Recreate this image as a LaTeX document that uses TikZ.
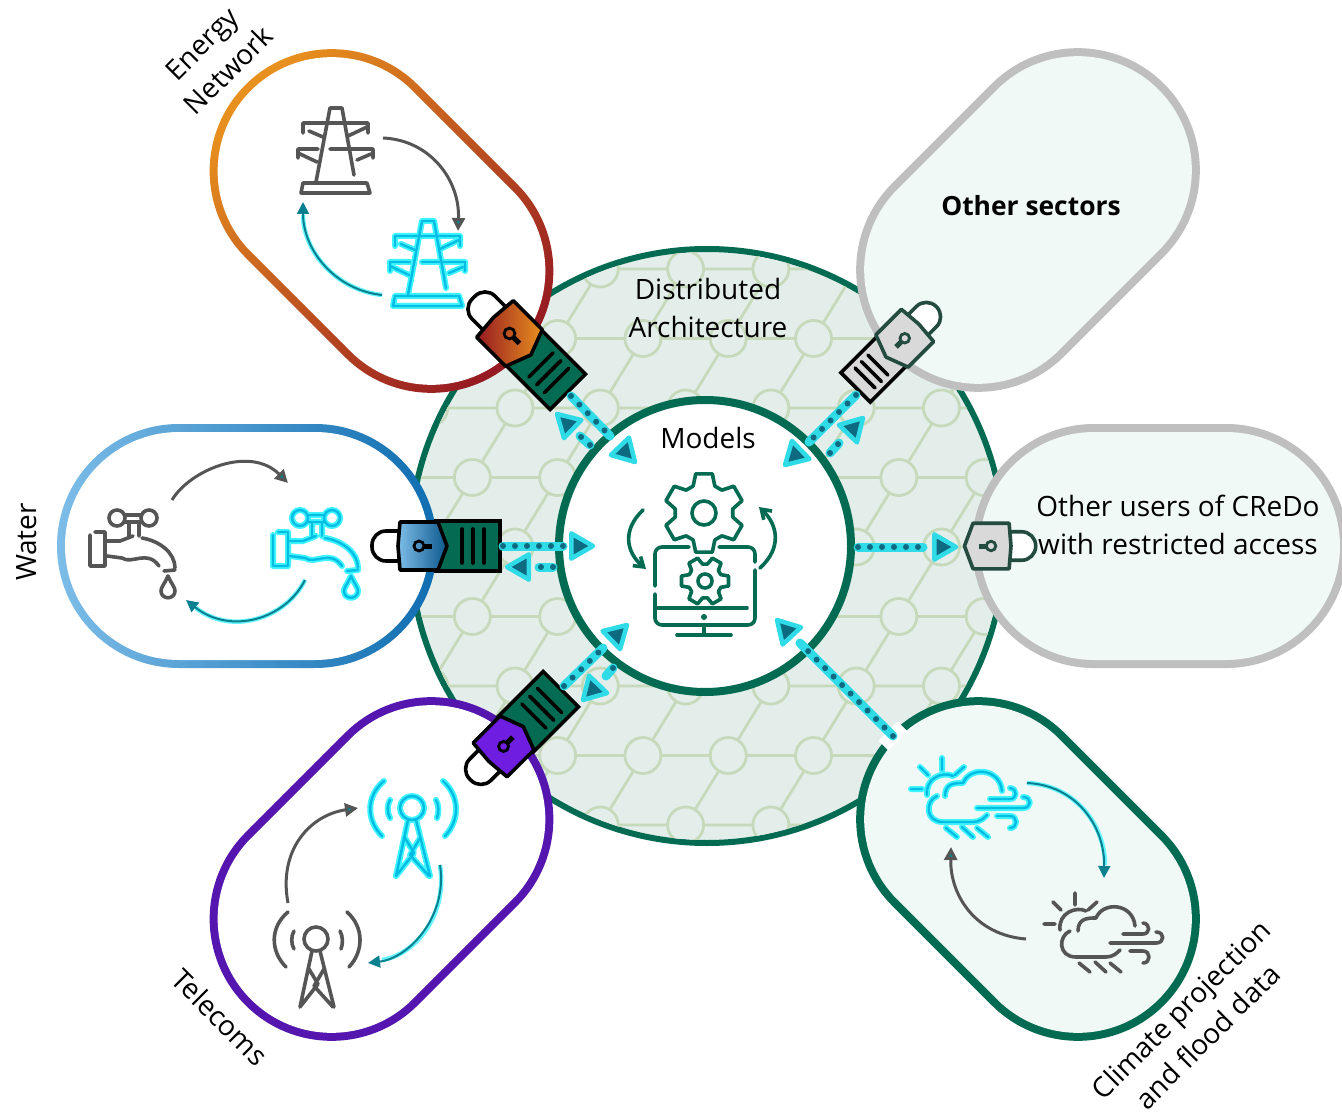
\documentclass[tikz,border=0pt]{standalone}
\usepackage{fontspec}
\setmainfont{Open Sans}
\usetikzlibrary{arrows.meta,shapes.misc,shapes.geometric}
\definecolor{credogreen}{HTML}{036B52}
\definecolor{discfill}{HTML}{E3EEEA}
\definecolor{mesh}{HTML}{C6DABB}
\definecolor{mint}{HTML}{F0F9F5}
\definecolor{rimgray}{HTML}{BFBFBF}
\definecolor{lockgray}{HTML}{D9D9D9}
\definecolor{lockdark}{HTML}{234B40}
\definecolor{flowcyan}{HTML}{30DBE8}
\definecolor{flowdark}{HTML}{0D6A80}
\definecolor{tipteal}{HTML}{08808F}
\definecolor{icongrey}{HTML}{555555}
\definecolor{glowcyan}{HTML}{3DF4FF}
\definecolor{corecyan}{HTML}{00BDE3}
\definecolor{energyA}{HTML}{E8901E}
\definecolor{energyB}{HTML}{961A22}
\definecolor{waterA}{HTML}{7DBDE8}
\definecolor{waterB}{HTML}{0F6DB0}
\definecolor{telecom}{HTML}{5416AE}
\definecolor{telecomlock}{HTML}{6F1DE0}
\tikzset{
  blobrim/.style={rounded rectangle,minimum height=244pt,inner sep=0pt,outer sep=0pt},
  blobcore/.style={rounded rectangle,minimum height=228pt,inner sep=0pt,outer sep=0pt},
  meshline/.style={mesh,line width=2.8pt},
  flowline/.style={flowcyan,line width=9pt,line cap=round},
  flowdots/.style={flowdark,line width=6pt,line cap=round,dash pattern=on 0pt off 12pt},
  flowtip/.style={regular polygon,regular polygon sides=3,shape border rotate=-90,
    draw=flowcyan,fill=flowdark,line width=4.5pt,line join=round,minimum size=29pt,
    inner sep=0pt,outer sep=0pt,anchor=corner 1},
  plugline/.style={black,line width=3.6pt,line join=miter},
  plugstripe/.style={black,line width=3.6pt,line cap=round},
  lockline/.style={line width=3.6pt,line join=round},
  icongray/.style={icongrey,line width=3.6pt,line cap=round,line join=round},
  iconglow/.style={glowcyan,line width=6pt,line cap=round,line join=round},
  iconcore/.style={corecyan,line width=2.4pt,line cap=round,line join=round},
  modelline/.style={credogreen,line width=3.6pt,line cap=round,line join=round},
  greyturn/.style={icongrey,line width=3pt,-{Triangle[length=13pt,width=13pt,fill=tipteal]}},
  glowturn/.style={glowcyan!80!white,line width=4.5pt},
  coreturn/.style={tipteal,line width=2pt,-{Triangle[length=12pt,width=12pt,fill=tipteal]}},
  label/.style={font=\fontsize{28}{38}\selectfont,align=center,inner sep=0pt}
}
\newcommand{\plugbody}[5]{%
  \begin{scope}[shift={(#1,#2)},rotate=#3,scale=#4]
    \draw[plugline,fill=#5] (-2,-25) rectangle (62,25);
    \foreach \stripe in {24,35,46} \draw[plugstripe] (\stripe,-17) -- (\stripe,17);
  \end{scope}}
\newcommand{\lockbody}[7]{%
  \begin{scope}[shift={(#1,#2)},rotate=#3,scale=#4]
    \draw[lockline,draw=#7,fill=white,rounded corners=14pt] (-36,-15) -- (-66,-15) -- (-66,15) -- (-36,15);
    \draw[lockline,draw=#7,left color=#5,right color=#6] (-38,-24) -- (0,-24) -- (9,0) -- (0,24) -- (-38,24) -- (-40,0) -- cycle;
    \draw[#7,line width=2.8pt] (-19,0) circle (5);
    \draw[#7,line width=5pt] (-14,0) -- (-6,0);
  \end{scope}}
\newcommand{\flowarrow}[5]{%
  \coordinate (#1from) at (#2);
  \coordinate (#1to) at (#3);
  \coordinate (#1tip) at (#4);
  \draw[flowline] (#1from) -- (#1to);
  \draw[flowdots] (#1from) -- (#1to);
  \node[flowtip,rotate=#5] (#1head) at (#1tip) {};}
\newcommand{\glowicon}[3]{%
  \begin{scope}[shift={(#1,#2)}]
    \draw[iconglow] #3;
    \draw[iconcore] #3;
  \end{scope}}
\newcommand{\greyicon}[3]{%
  \begin{scope}[shift={(#1,#2)}]
    \draw[icongray] #3;
  \end{scope}}
\newcommand{\pylonpath}{(-19,32) -- (-5,-42) -- (7,-42) -- (19,25)
  (-32,-17) -- (-32,-27) -- (33,-27) -- (33,-17)
  (-26,-19) -- (-12,-13) (13,-14) -- (32,-23)
  (-37,8) -- (-37,-1) -- (-17,-1) (-5,-1) -- (38,-1) -- (38,8)
  (-37,3) -- (-18,12) (22,10) -- (36,4)
  (-34,43) -- (-32,33) -- (32,33) -- (35,43) -- cycle}
\newcommand{\tappath}{(-15,-35) circle (8) (17,-35) circle (8)
  (-8,-38) -- (10,-38) (-8,-31) -- (10,-31) (-3,-31) -- (-3,-17) (7,-31) -- (7,-17)
  (-42,-18) -- (-42,13) -- (-27,13) -- (-27,-21) -- (-37,-21)
  (-25,-12) -- (-12,-12) -- (1,-17)
  (10,-15) .. controls (28,-12) and (43,0) .. (43,15)
  (-25,3) -- (-10,5) .. controls (0,12) and (15,-4) .. (27,13)
  (32,18) -- (43,17)
  (36,23) .. controls (32,32) and (29,34) .. (29,38) .. controls (29,47) and (43,47) .. (43,38) .. controls (43,34) and (40,32) .. (36,23)}
\newcommand{\mastpath}{(0,0) circle (12)
  (-28,-27) .. controls (-46,-12) and (-46,12) .. (-30,28)
  (31,-27) .. controls (48,-12) and (48,12) .. (33,28)
  (-22,-8) .. controls (-25,-3) and (-25,5) .. (-22,10)
  (24,-8) .. controls (27,-3) and (27,5) .. (25,10)
  (-4,12) -- (-16,68) (4,12) -- (18,68)
  (-7,30) -- (2,45) -- (-16,68) (8,30) -- (-2,47) -- (17,68)}
\newcommand{\cloudpath}{(-18,-40) -- (-18,-28) (-40,-31) -- (-32,-23) (4,-31) -- (-5,-23) (-49,-9) -- (-38,-9)
  (-33,-3) .. controls (-35,-20) and (-17,-27) .. (-7,-22)
  (-15,-2) .. controls (-15,-15) and (-5,-15) .. (3,-15) .. controls (10,-32) and (40,-30) .. (42,-7)
  (-23,-2) .. controls (-35,3) and (-35,24) .. (-17,24) -- (13,24) .. controls (20,24) and (24,20) .. (27,17)
  (30,1) -- (50,1) .. controls (57,1) and (58,-9) .. (50,-10)
  (17,10) -- (63,10) .. controls (72,10) and (72,-1) .. (63,-1)
  (37,18) -- (50,18) .. controls (58,18) and (58,30) .. (50,30)
  (-14,30) -- (-3,39) (2,29) -- (13,39) (17,30) -- (28,39)}
\newcommand{\gearicon}[6]{%
  \begin{scope}[shift={(#1,#2)}]
    \draw[modelline] (0,0) circle (#5);
    \foreach \toothangle in {0,60,...,300} {
      \draw[modelline] (#6+\toothangle-22:#4) -- (#6+\toothangle-12:#3) -- (#6+\toothangle+12:#3)
        -- (#6+\toothangle+22:#4) -- (#6+\toothangle+38:#4);
    }
  \end{scope}}
\begin{document}
\begin{tikzpicture}[x=1pt,y=-1pt]
\clip (0,0) rectangle (1342,1115);
\node (disc) at (707,546) [circle,draw=credogreen,fill=discfill,line width=6pt,minimum size=594pt,inner sep=0pt] {};
\begin{scope}
\clip (707,546) circle (294);
\foreach \m in {-8,...,8} \foreach \k in {-5,...,5} {
  \pgfmathsetmacro{\cx}{515+85.3*\m-42.65*\k}
  \pgfmathsetmacro{\cy}{547+69.5*\k}
  \draw[meshline] (\cx,\cy) -- ++(85.3,0) (\cx,\cy) -- ++(42.65,-69.5);
}
\foreach \m in {-8,...,8} \foreach \k in {-5,...,5} {
  \pgfmathsetmacro{\cx}{515+85.3*\m-42.65*\k}
  \pgfmathsetmacro{\cy}{547+69.5*\k}
  \draw[meshline,fill=discfill] (\cx,\cy) circle (18);
}
\end{scope}
\node (hub) at (705,546) [circle,draw=credogreen,fill=white,line width=8pt,minimum size=292pt,inner sep=0pt] {};

\node (energyrim) at (381.5,221) [blobrim,rotate=-45,minimum width=385pt,top color=energyA,bottom color=energyB,shading angle=45] {};
\node (energy) at (381.5,221) [blobcore,rotate=-45,minimum width=369pt,fill=white] {};
\node (waterrim) at (247,546) [blobrim,minimum width=380pt,left color=waterA,right color=waterB] {};
\node (water) at (247,546) [blobcore,minimum width=364pt,fill=white] {};
\node (telecomrim) at (381.5,869) [blobrim,rotate=45,minimum width=385pt,fill=telecom] {};
\node (telecoms) at (381.5,869) [blobcore,rotate=45,minimum width=369pt,fill=white] {};
\node (sectorsrim) at (1028,220) [blobrim,rotate=45,minimum width=385pt,fill=rimgray] {};
\node (sectors) at (1028,220) [blobcore,rotate=45,minimum width=369pt,fill=mint] {};
\node (usersrim) at (1160,546) [blobrim,minimum width=376pt,fill=rimgray] {};
\node (users) at (1160,546) [blobcore,minimum width=360pt,fill=mint] {};
\node (climaterim) at (1028,869) [blobrim,rotate=-45,minimum width=385pt,fill=credogreen] {};
\node (climate) at (1028,869) [blobcore,rotate=-45,minimum width=369pt,fill=mint] {};
\node (climategap) at (893,736) [rectangle,fill=white,rotate=45,minimum width=27pt,minimum height=14pt,inner sep=0pt] {};

\greyicon{335}{150}{\pylonpath}
\glowicon{427}{263}{\pylonpath}
\greyicon{132}{553}{\tappath}
\glowicon{315}{553}{\tappath}
\glowicon{412}{808}{\mastpath}
\greyicon{316}{939}{\mastpath}
\glowicon{960}{798}{\cloudpath}
\greyicon{1093}{933}{\cloudpath}

\coordinate (pa) at (383,138); \coordinate (pb) at (458,231);
\coordinate (pc) at (382,295); \coordinate (pd) at (303,202);
\draw[greyturn] (pa) .. controls (430,140) and (460,180) .. (pb);
\draw[glowturn] (pc) .. controls (335,290) and (303,250) .. (303,215);
\draw[coreturn] (pc) .. controls (335,290) and (303,250) .. (pd);
\coordinate (ta) at (172,500); \coordinate (tb) at (288,483);
\coordinate (tc) at (305,580); \coordinate (td) at (186,600);
\draw[greyturn] (ta) .. controls (190,470) and (250,445) .. (tb);
\draw[glowturn] (tc) .. controls (285,620) and (230,635) .. (196,608);
\draw[coreturn] (tc) .. controls (285,620) and (230,635) .. (td);
\coordinate (ma) at (288,903); \coordinate (mb) at (358,808);
\coordinate (mc) at (440,865); \coordinate (md) at (368,963);
\draw[greyturn] (ma) .. controls (278,850) and (310,815) .. (mb);
\draw[glowturn] (mc) .. controls (448,915) and (415,955) .. (382,960);
\draw[coreturn] (mc) .. controls (448,915) and (410,958) .. (md);
\coordinate (ca) at (1027,783); \coordinate (cb) at (1104,878);
\coordinate (cc) at (1026,939); \coordinate (cd) at (951,847);
\draw[glowturn] (ca) .. controls (1075,785) and (1105,825) .. (1105,865);
\draw[coreturn] (ca) .. controls (1075,785) and (1105,825) .. (cb);
\draw[greyturn] (cc) .. controls (975,935) and (950,895) .. (cd);

\gearicon{704}{513}{40}{29}{12}{30}
\gearicon{705}{581}{24}{17}{7}{0}
\draw[modelline,rounded corners=7pt] (689,547) -- (655,547) -- (655,586);
\draw[modelline,rounded corners=7pt] (655,594) -- (655,625) -- (755,625) -- (755,570);
\draw[modelline,rounded corners=7pt] (755,562) -- (755,547) -- (719,547);
\draw[modelline] (655,608) -- (747,608);
\draw[modelline] (704,625) -- (704,635) (677,635) -- (731,635);
\fill[credogreen] (704,617) circle (3);
\draw[modelline,-{Straight Barb[length=9pt,width=12pt]}] (643,510) .. controls (622,530) and (626,552) .. (646,569);
\draw[modelline,-{Straight Barb[length=9pt,width=12pt]}] (760,568) .. controls (782,548) and (778,525) .. (759,507);

\plugbody{524}{348}{-45}{1}{credogreen}
\lockbody{524}{348}{-45}{1.08}{energyB}{energyA}{black}
\plugbody{438}{546}{0}{1}{credogreen}
\lockbody{438}{546}{0}{1}{waterA}{waterB!80!black}{black}
\plugbody{517}{733}{45}{1}{credogreen}
\lockbody{517}{733}{45}{1}{telecomlock}{telecomlock}{black}
\plugbody{892}{351}{-135}{.83}{lockgray}
\lockbody{892}{351}{-135}{.95}{lockgray}{lockgray}{lockdark}
\lockbody{973}{546}{180}{.95}{lockgray}{lockgray}{lockdark}

\flowarrow{eo}{571,396}{610,436}{635,462}{-46}
\flowarrow{ei}{590,445}{580,436}{557,414}{136}
\flowarrow{wo}{503,546}{563,546}{593,546}{0}
\flowarrow{wi}{553,567}{539,567}{507,567}{180}
\flowarrow{to}{564,686}{603,648}{627,625}{44}
\flowarrow{ti}{613,668}{606,676}{583,700}{-134}
\flowarrow{so}{856,395}{809,442}{785,465}{-136}
\flowarrow{si}{830,453}{839,443}{863,418}{46}
\flowarrow{uo}{858,547}{923,547}{956,547}{0}
\flowarrow{co}{893,736}{800,643}{777,620}{133}

\node (energylabel) at (215,57) [label,rotate=45] {Energy\\Network};
\node (waterlabel) at (27,542) [label,rotate=90] {Water};
\node (telecomlabel) at (220,1017) [label,rotate=-45] {Telecoms};
\node (climatelabel) at (1194,1023) [label,rotate=45] {Climate projection\\and flood data};
\node (archlabel) at (708,308) [label] {Distributed\\Architecture};
\node (modelslabel) at (708,438) [label] {Models};
\node (sectorlabel) at (1031,206) [label,font=\fontsize{26.4}{38}\selectfont\bfseries] {Other sectors};
\node (userlabel) at (1178,525) [label] {Other users of CReDo\\with restricted access};
\end{tikzpicture}
\end{document}
